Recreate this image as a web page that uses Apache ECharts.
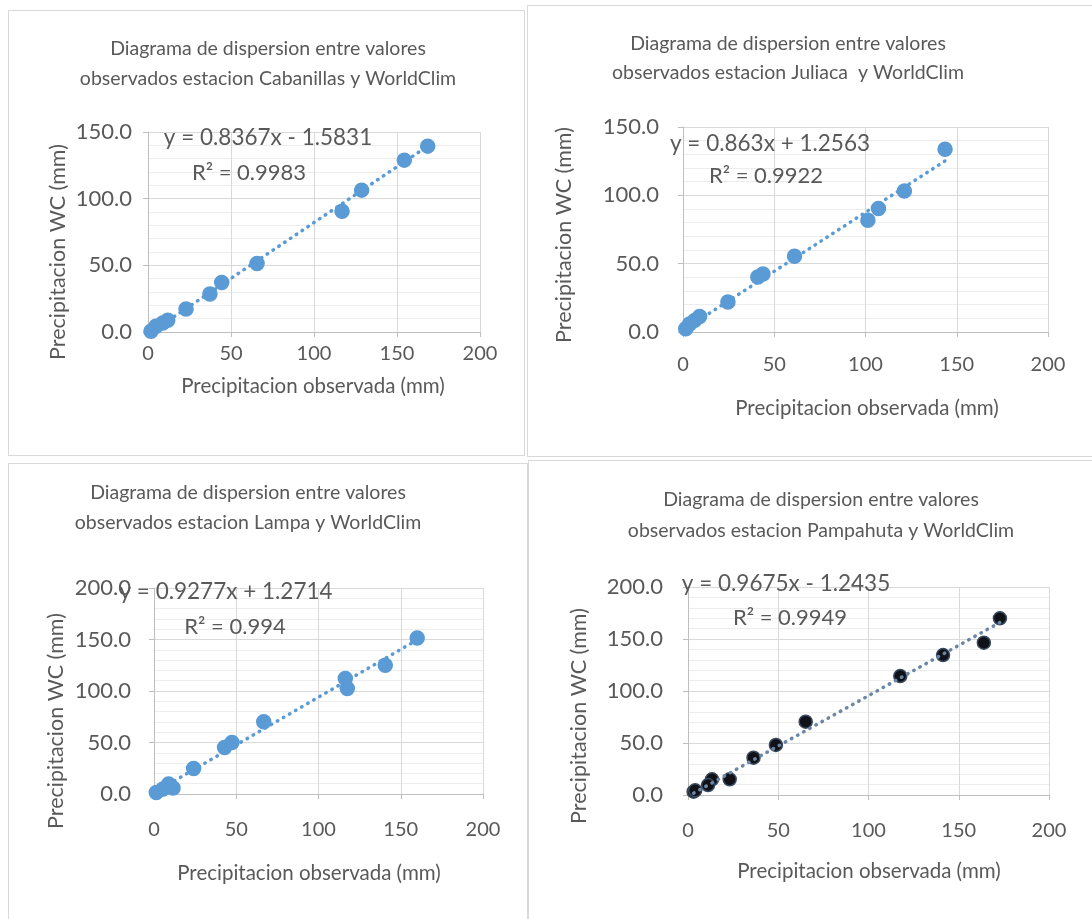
<!DOCTYPE html>
<html>
<head>
<meta charset="utf-8">
<script src="https://cdn.jsdelivr.net/npm/echarts@6/dist/echarts.min.js"></script>
<style>
  html, body { margin: 0; padding: 0; background: #fff; }
  body { width: 1092px; height: 919px; position: relative; overflow: hidden; }
  .panel { position: absolute; border: 1px solid #d9d9d9; box-sizing: border-box; background: #fff; }
</style>
</head>
<body>
<div id="chartCabanillas" class="panel" style="left:8px;top:10px;width:517px;height:446px;"></div>
<div id="chartJuliaca" class="panel" style="left:527px;top:5px;width:566px;height:452px;"></div>
<div id="chartLampa" class="panel" style="left:8px;top:463px;width:520px;height:457px;"></div>
<div id="chartPampahuta" class="panel" style="left:528px;top:460px;width:565px;height:460px;"></div>
<script>
// valores (mm)
const cabanillasObs = [168.5, 154.4, 128.7, 116.9, 65.7, 44.4, 37.3, 22.9, 11.9, 8.9, 4.8, 1.8];
const cabanillasWC  = [139.4, 128.9, 106.4, 90.6, 51.4, 37.1, 28.5, 17.3, 8.8, 6.8, 4.3, 0.5];

const juliacaObs = [143.6, 121.3, 107.1, 101.3, 61.1, 43.8, 41.0, 24.6, 9.1, 6.4, 3.6, 1.5];
const juliacaWC  = [133.7, 103.1, 90.4, 81.8, 55.4, 42.4, 40.2, 21.9, 11.4, 8.5, 5.8, 2.4];

const lampaObs = [160.0, 140.6, 116.3, 117.5, 66.7, 47.4, 42.9, 24.1, 8.9, 11.6, 5.5, 1.4];
const lampaWC  = [151.5, 125.0, 112.2, 102.5, 70.2, 49.9, 45.1, 24.8, 9.7, 5.8, 4.8, 1.5];

const pampahutaObs = [172.8, 163.9, 141.3, 117.6, 65.2, 48.7, 36.3, 23.1, 13.3, 11.1, 3.1, 4.0];
const pampahutaWC  = [169.9, 146.4, 134.6, 114.4, 70.5, 48.1, 35.9, 15.1, 15.1, 9.6, 3.2, 4.5];

// ecuaciones de tendencia mostradas en cada grafico
const slopes = [0.8367, 0.863, 0.9277, 0.9675];
const intercepts = [-1.5831, 1.2563, 1.2714, -1.2435];
const equationLabels = ['y = 0.8367x - 1.5831', 'y = 0.863x + 1.2563', 'y = 0.9277x + 1.2714', 'y = 0.9675x - 1.2435'];
const r2Labels = ['R² = 0.9983', 'R² = 0.9922', 'R² = 0.994', 'R² = 0.9949'];
const stations = ['Cabanillas', 'Juliaca ', 'Lampa', 'Pampahuta'];
const yMaxes = [150, 150, 200, 200];

const textColor = '#595959';
const fontFamily = 'Lato, "Open Sans", sans-serif';

const panels = [
    { id: 'chartCabanillas', obs: cabanillasObs, wc: cabanillasWC, color: '#5b9bd5', border: '#5b9bd5', line: '#5b9bd5', size: 14,
      grid: { left: 139, top: 121, width: 332, height: 200 }, xMargin: 12, yMargin: 16,
      titlePos: [259, 38, 68], eqPos: [259, 127], r2Pos: [240, 162], yNamePos: [49, 241], xNamePos: [304, 375] },
    { id: 'chartJuliaca', obs: juliacaObs, wc: juliacaWC, color: '#5b9bd5', border: '#5b9bd5', line: '#5b9bd5', size: 14,
      grid: { left: 155, top: 121, width: 365, height: 205 }, xMargin: 23, yMargin: 24,
      titlePos: [260, 38, 67], eqPos: [242, 138], r2Pos: [238, 170], yNamePos: [36, 229], xNamePos: [339, 402] },
    { id: 'chartLampa', obs: lampaObs, wc: lampaWC, color: '#5b9bd5', border: '#5b9bd5', line: '#5b9bd5', size: 14,
      grid: { left: 145, top: 124, width: 329, height: 206 }, xMargin: 26, yMargin: 23,
      titlePos: [239, 29, 59], eqPos: [217, 128], r2Pos: [226, 163], yNamePos: [47, 257], xNamePos: [300, 409] },
    { id: 'chartPampahuta', obs: pampahutaObs, wc: pampahutaWC, color: '#111118', border: '#3a4a60', line: '#6a87a6', size: 13,
      grid: { left: 159, top: 126, width: 361, height: 208 }, xMargin: 26, yMargin: 25,
      titlePos: [292, 39, 70], eqPos: [257, 123], r2Pos: [261, 157], yNamePos: [50, 255], xNamePos: [340, 410] }
];

const charts = [];

document.addEventListener('DOMContentLoaded', function() {
    panels.forEach(function(p, i) {
        const chart = echarts.init(document.getElementById(p.id));
        chart.setOption(buildOption(p, i));
        charts.push(chart);
    });
});

function txt(text, x, y, size, rotation) {
    return {
        type: 'text', x: x, y: y, rotation: rotation || 0, z: 100,
        style: { text: text, fill: textColor, font: size + 'px ' + fontFamily, textAlign: 'center', textVerticalAlign: 'middle' }
    };
}

function buildOption(p, i) {
    const points = p.obs.map(function(x, k) { return [x, p.wc[k]]; });
    const xMin = Math.min.apply(null, p.obs);
    const xMax = Math.max.apply(null, p.obs);
    const trend = [[xMin, slopes[i] * xMin + intercepts[i]], [xMax, slopes[i] * xMax + intercepts[i]]];

    return {
        animation: false,
        grid: p.grid,
        xAxis: {
            type: 'value', min: 0, max: 200, interval: 50,
            axisLine: { show: true, lineStyle: { color: '#bfbfbf' } },
            axisTick: { show: true, length: 5, lineStyle: { color: '#bfbfbf' } },
            axisLabel: { color: textColor, fontSize: 20, fontFamily: fontFamily, margin: p.xMargin },
            splitLine: { show: true, lineStyle: { color: '#d9d9d9' } }
        },
        yAxis: {
            type: 'value', min: 0, max: yMaxes[i], interval: 50,
            axisLine: { show: true, lineStyle: { color: '#bfbfbf' } },
            axisTick: { show: true, length: 5, lineStyle: { color: '#bfbfbf' } },
            axisLabel: { color: textColor, fontSize: 22, fontFamily: fontFamily, margin: p.yMargin, formatter: function(v) { return v.toFixed(1); } },
            splitLine: { show: true, lineStyle: { color: '#d9d9d9' } },
            minorTick: { show: false, splitNumber: 5 },
            minorSplitLine: { show: true, lineStyle: { color: '#ededed' } }
        },
        series: [
            {
                type: 'scatter', data: points, symbolSize: p.size, z: 3,
                itemStyle: { color: p.color, borderColor: p.border, borderWidth: 1.5, opacity: 1 }
            },
            {
                type: 'line', data: trend, showSymbol: false, symbol: 'none', z: 4, silent: true,
                lineStyle: { color: p.line, width: 3.5, type: [0.5, 6.5], cap: 'round' }
            }
        ],
        graphic: [
            txt('Diagrama de dispersion entre valores', p.titlePos[0], p.titlePos[1], 19.5),
            txt('observados estacion ' + stations[i] + ' y WorldClim', p.titlePos[0], p.titlePos[2], 19.5),
            txt(equationLabels[i], p.eqPos[0], p.eqPos[1], 22.5),
            txt(r2Labels[i], p.r2Pos[0], p.r2Pos[1], 22),
            txt('Precipitacion WC (mm)', p.yNamePos[0], p.yNamePos[1], 21.5, Math.PI / 2),
            txt('Precipitacion observada (mm)', p.xNamePos[0], p.xNamePos[1], 20.5)
        ]
    };
}
</script>
</body>
</html>
